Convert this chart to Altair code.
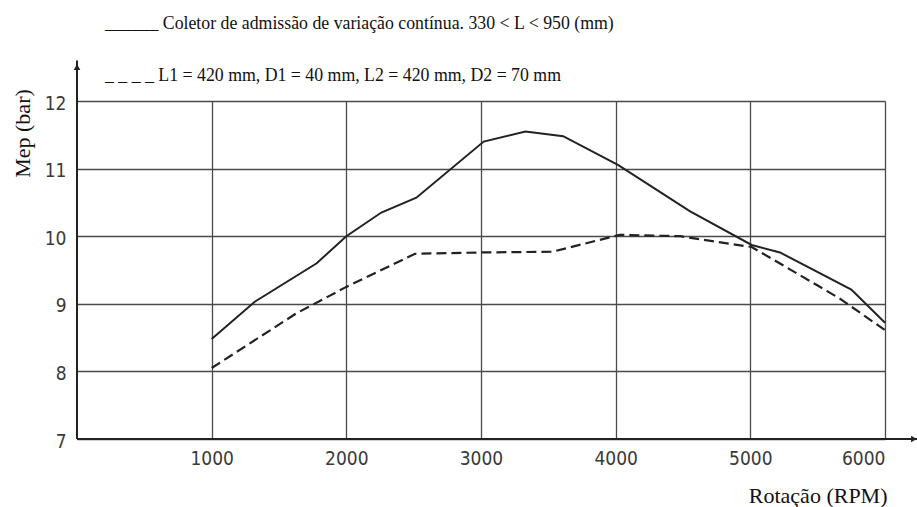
import altair as alt
import pandas as pd

# Series
rpm_solid = [1000, 1320, 1780, 2000, 2260, 2520, 3020, 3330, 3610, 4020, 4550, 5010, 5220, 5750, 6000]
mep_solid = [8.48, 9.03, 9.60, 10.0, 10.35, 10.57, 11.40, 11.55, 11.48, 11.05, 10.37, 9.87, 9.76, 9.21, 8.72]

rpm_dash = [1000, 1630, 2000, 2510, 3020, 3530, 4030, 4480, 5010, 5500, 5670, 6000]
mep_dash = [8.05, 8.86, 9.25, 9.74, 9.76, 9.77, 10.02, 10.00, 9.84, 9.27, 9.07, 8.61]

x_ticks = [1000, 2000, 3000, 4000, 5000, 6000]
y_ticks = [7, 8, 9, 10, 11, 12]

legend_solid = "______ Coletor de admissão de variação contínua. 330 < L < 950 (mm)"
legend_dash = "_ _ _ _ L1 = 420 mm, D1 = 40 mm, L2 = 420 mm, D2 = 70 mm"
x_title = "Rotação (RPM)"
y_title = "Mep (bar)"

df_solid = pd.DataFrame({"rpm": rpm_solid, "mep": mep_solid})
df_dash = pd.DataFrame({"rpm": rpm_dash, "mep": mep_dash})

W, H = 808, 338
xs = alt.Scale(domain=[0, 6000], nice=False, zero=False)
ys = alt.Scale(domain=[7, 12], nice=False, zero=False)

TICK_FONT = "DejaVu Sans Condensed, DejaVu Sans, sans-serif"
SERIF = "Liberation Serif, Times New Roman, serif"

x_axis = alt.Axis(
    values=x_ticks, format="d", grid=True, domain=False, ticks=False,
    labelFont=TICK_FONT, labelFontSize=19, labelColor="#3a3a3a", labelPadding=10,
    gridColor="#4a4a4a", gridWidth=1.3, gridOpacity=1,
    title=x_title, titleFont=SERIF, titleFontSize=22, titleFontWeight="normal",
    titleColor="#111", titleX=810, titleY=63, titleAlign="right",
    titleBaseline="alphabetic", titleAngle=0,
)
y_axis = alt.Axis(
    values=y_ticks, format="d", grid=True, domain=False, ticks=False,
    labelFont=TICK_FONT, labelFontSize=19, labelColor="#3a3a3a", labelPadding=11,
    labelOffset=2,
    gridColor="#4a4a4a", gridWidth=1.3, gridOpacity=1,
    title=y_title, titleFont=SERIF, titleFontSize=22, titleFontWeight="normal",
    titleColor="#111", titleX=-55, titleY=32, titleAngle=-90, titleAlign="center",
    titleBaseline="middle",
)

solid = alt.Chart(df_solid).mark_line(color="#222", strokeWidth=2).encode(
    x=alt.X("rpm:Q", scale=xs, axis=x_axis),
    y=alt.Y("mep:Q", scale=ys, axis=y_axis),
)
dashed = alt.Chart(df_dash).mark_line(color="#222", strokeWidth=2.2, strokeDash=[10, 5]).encode(
    x=alt.X("rpm:Q", scale=xs),
    y=alt.Y("mep:Q", scale=ys),
)

# axis lines with arrows
axes_df = pd.DataFrame({"x0": [0, 0], "x1": [6240, 0], "y0": [7, 7], "y1": [7, 12.6]})
axes_lines = alt.Chart(axes_df).mark_rule(color="#222", strokeWidth=2).encode(
    x=alt.X("x0:Q", scale=xs), x2="x1:Q",
    y=alt.Y("y0:Q", scale=ys), y2="y1:Q",
)
arrow_r = alt.Chart(pd.DataFrame({"x": [6215], "y": [7]})).mark_point(
    shape="triangle-right", filled=True, color="#222", size=45, opacity=1
).encode(x=alt.X("x:Q", scale=xs), y=alt.Y("y:Q", scale=ys))
arrow_u = alt.Chart(pd.DataFrame({"x": [0], "y": [12.5]})).mark_point(
    shape="triangle-up", filled=True, color="#222", size=45, opacity=1
).encode(x=alt.X("x:Q", scale=xs), y=alt.Y("y:Q", scale=ys))

leg1 = alt.Chart(pd.DataFrame({"t": [legend_solid]})).mark_text(
    font=SERIF, fontSize=17.8, align="left", baseline="alphabetic", color="#111"
).encode(text="t:N", x=alt.value(28), y=alt.value(-72.5))
leg2 = alt.Chart(pd.DataFrame({"t": [legend_dash]})).mark_text(
    font=SERIF, fontSize=17.8, align="left", baseline="alphabetic", color="#111"
).encode(text="t:N", x=alt.value(28), y=alt.value(-20))

chart = alt.layer(solid, dashed, axes_lines, arrow_r, arrow_u, leg1, leg2).properties(
    width=W, height=H,
    autosize=alt.AutoSizeParams(type="none"),
    padding={"left": 77, "top": 101, "right": 32, "bottom": 68},
).configure_view(stroke=None).configure(background="white")

chart.save("out.html", embed_options={"renderer": "svg", "actions": False})
